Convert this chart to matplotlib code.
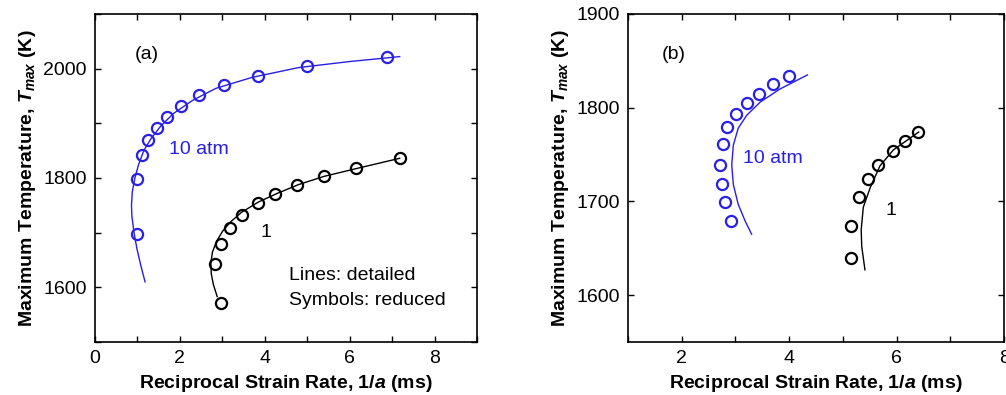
import matplotlib
matplotlib.use("Agg")
import matplotlib.pyplot as plt
from matplotlib.ticker import MultipleLocator

plt.rcParams["font.family"] = ["Liberation Sans", "DejaVu Sans"]
plt.rcParams["font.size"] = 14
plt.rcParams["mathtext.fontset"] = "custom"
plt.rcParams["mathtext.it"] = "Liberation Sans:italic:bold"
plt.rcParams["mathtext.rm"] = "Liberation Sans:bold"
plt.rcParams["mathtext.bf"] = "Liberation Sans:bold"

BLUE = "#2a1fe4"

# --- Panel (a): symbols (reduced) ---
a10_sym_x = [6.89, 5.00, 3.84, 3.04, 2.45, 2.02, 1.69, 1.46, 1.26, 1.11, 0.99, 0.98]
a10_sym_y = [2022, 2004, 1986, 1970, 1951, 1931, 1912, 1892, 1869, 1842, 1798, 1698]
a1_sym_x = [7.18, 6.16, 5.40, 4.76, 4.25, 3.84, 3.47, 3.19, 2.98, 2.82, 2.96]
a1_sym_y = [1836, 1818, 1803, 1788, 1771, 1754, 1733, 1709, 1680, 1642, 1572]

# --- Panel (a): lines (detailed) ---
a10_line_x = [1.18, 1.08, 0.99, 0.92, 0.87, 0.86, 0.88, 0.94, 1.03, 1.15, 1.32,
              1.55, 1.85, 2.3, 2.85, 3.7, 4.8, 6.0, 7.18]
a10_line_y = [1610, 1640, 1670, 1700, 1730, 1750, 1775, 1800, 1825, 1850, 1872,
              1895, 1918, 1942, 1964, 1984, 2002, 2013, 2022]
a1_line_x = [2.88, 2.79, 2.74, 2.73, 2.77, 2.87, 3.01, 3.2, 3.45, 3.85, 4.3,
             4.8, 5.4, 6.2, 7.18]
a1_line_y = [1583, 1605, 1625, 1645, 1665, 1685, 1703, 1720, 1737, 1756, 1772,
             1788, 1803, 1818, 1836]

# --- Panel (b): symbols (reduced) ---
b10_sym_x = [3.99, 3.69, 3.44, 3.22, 3.01, 2.85, 2.76, 2.72, 2.74, 2.80, 2.91]
b10_sym_y = [1834, 1825, 1815, 1805, 1793, 1779, 1761, 1739, 1719, 1699, 1679]
b1_sym_x = [6.39, 6.16, 5.93, 5.66, 5.46, 5.29, 5.15, 5.15]
b1_sym_y = [1774, 1765, 1754, 1739, 1724, 1705, 1674, 1640]

# --- Panel (b): lines (detailed) ---
b10_line_x = [4.34, 3.83, 3.46, 3.21, 3.05, 2.96, 2.93, 2.96, 3.05, 3.18, 3.30]
b10_line_y = [1835, 1820, 1806, 1792, 1778, 1760, 1739, 1718, 1697, 1679, 1665]
b1_line_x = [6.41, 5.94, 5.69, 5.51, 5.38, 5.34, 5.35, 5.41]
b1_line_y = [1774, 1755, 1738, 1715, 1694, 1670, 1652, 1627]

XLABEL = r"Reciprocal Strain Rate, $\mathit{1/a}$ (ms)"
YLABEL = r"Maximum Temperature, $T_{max}$ (K)"


def style_axes(ax):
    ax.tick_params(which="both", direction="in", top=True, right=True,
                   length=4, width=1.0, labelsize=14, pad=6)
    for s in ax.spines.values():
        s.set_linewidth(1.2)
    ax.set_xlabel(XLABEL, fontsize=14, fontweight="bold")
    ax.set_ylabel(YLABEL, fontsize=14, fontweight="bold")


fig = plt.figure(figsize=(10.06, 3.95), dpi=100)
ax1 = fig.add_axes([0.0944, 0.1342, 0.3797, 0.8304])
ax2 = fig.add_axes([0.6243, 0.1342, 0.3738, 0.8304])

sym = dict(linestyle="none", marker="o", markersize=8, markerfacecolor="none",
           markeredgewidth=1.6)

# Panel (a)
ax1.plot(a10_line_x, a10_line_y, color=BLUE, lw=1.0)
ax1.plot(a1_line_x, a1_line_y, color="black", lw=1.0)
ax1.plot(a10_sym_x, a10_sym_y, markeredgecolor=BLUE, **sym)
ax1.plot(a1_sym_x, a1_sym_y, markeredgecolor="black", **sym)
ax1.set_xlim(0, 9)
ax1.set_ylim(1500, 2100)
ax1.xaxis.set_major_locator(MultipleLocator(2))
ax1.xaxis.set_minor_locator(MultipleLocator(1))
ax1.yaxis.set_major_locator(MultipleLocator(200))
ax1.yaxis.set_minor_locator(MultipleLocator(100))
ax1.set_yticks([1600, 1800, 2000])
ax1.text(0.94, 2025, "(a)", va="center", ha="left")
ax1.text(1.74, 1853, "10 atm", color=BLUE, va="center", ha="left")
ax1.text(3.9, 1701, "1", va="center", ha="left")
ax1.text(4.56, 1622, "Lines: detailed", va="center", ha="left")
ax1.text(4.56, 1576, "Symbols: reduced", va="center", ha="left")
style_axes(ax1)

# Panel (b)
ax2.plot(b10_line_x, b10_line_y, color=BLUE, lw=1.0)
ax2.plot(b1_line_x, b1_line_y, color="black", lw=1.0)
ax2.plot(b10_sym_x, b10_sym_y, markeredgecolor=BLUE, **sym)
ax2.plot(b1_sym_x, b1_sym_y, markeredgecolor="black", **sym)
ax2.set_xlim(1, 8)
ax2.set_ylim(1550, 1900)
ax2.xaxis.set_major_locator(MultipleLocator(2))
ax2.xaxis.set_minor_locator(MultipleLocator(1))
ax2.yaxis.set_major_locator(MultipleLocator(100))
ax2.text(1.63, 1857, "(b)", va="center", ha="left")
ax2.text(3.14, 1746, "10 atm", color=BLUE, va="center", ha="left")
ax2.text(5.8, 1690, "1", va="center", ha="left")
style_axes(ax2)

fig.savefig("out.png", dpi=100)
